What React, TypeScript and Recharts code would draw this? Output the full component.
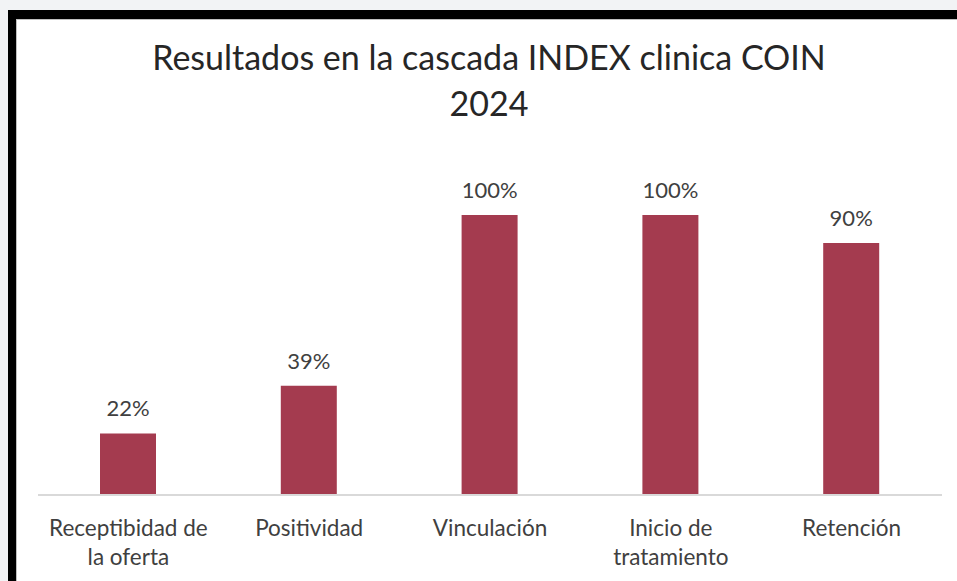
import React from "react";
import { BarChart, Bar, XAxis, YAxis, LabelList } from "recharts";

const categories = [
  "Receptibidad de\nla oferta",
  "Positividad",
  "Vinculación",
  "Inicio de\ntratamiento",
  "Retención",
];
const values = [0.22, 0.39, 1.0, 1.0, 0.9];
const titleLines = ["Resultados en la cascada INDEX clinica COIN", "2024"];

const data = categories.map((c, i) => ({ name: c, value: values[i] }));

const FONT = "Lato, 'Open Sans', sans-serif";

const CatTick = (props: any) => {
  const { x, y, payload } = props;
  const lines = String(payload.value).split("\n");
  return (
    <g>
      {lines.map((l: string, i: number) => (
        <text
          key={i}
          x={x}
          y={y + 24 + i * 29}
          textAnchor="middle"
          dominantBaseline="central"
          fontFamily={FONT}
          fontSize={22.5}
          fill="#404040"
        >
          {l}
        </text>
      ))}
    </g>
  );
};

const ValLabel = (props: any) => {
  const { x, y, width, value } = props;
  return (
    <text
      x={x + width / 2}
      y={y - 17}
      textAnchor="middle"
      fontFamily={FONT}
      fontSize={22}
      fill="#404040"
    >
      {Math.round(value * 100) + "%"}
    </text>
  );
};

export default function App() {
  return (
    <div
      style={{
        position: "absolute",
        left: 0,
        top: 0,
        width: 957,
        height: 581,
        background: "#f2f3f5",
        overflow: "hidden",
      }}
    >
      <div
        style={{
          position: "absolute",
          left: 8,
          top: 10,
          width: 949,
          height: 571,
          background: "#000",
        }}
      />
      <div
        style={{
          position: "absolute",
          left: 16,
          top: 19,
          width: 941,
          height: 562,
          background: "#bfbfbf",
        }}
      />
      <div
        style={{
          position: "absolute",
          left: 17,
          top: 20,
          width: 940,
          height: 561,
          background: "#fff",
        }}
      >
        {titleLines.map((t, i) => (
          <div
            key={i}
            style={{
              position: "absolute",
              left: 0,
              width: 944,
              top: 16 + i * 46,
              height: 42,
              lineHeight: "42px",
              textAlign: "center",
              fontFamily: FONT,
              fontSize: 34,
              color: "#262626",
              whiteSpace: "nowrap",
            }}
          >
            {t}
          </div>
        ))}
        <BarChart
          width={940}
          height={561}
          data={data}
          margin={{ top: 195, right: 15, bottom: 6, left: 21 }}
          style={{ position: "absolute", left: 0, top: 0 }}
        >
          <XAxis
            dataKey="name"
            axisLine={{ stroke: "#d9d9d9", strokeWidth: 2 }}
            tickLine={false}
            tick={<CatTick />}
            interval={0}
            height={80}
          />
          <YAxis hide domain={[0, 1]} />
          <Bar dataKey="value" fill="#a43b4f" barSize={56} isAnimationActive={false}>
            <LabelList dataKey="value" content={<ValLabel />} />
          </Bar>
        </BarChart>
      </div>
    </div>
  );
}
